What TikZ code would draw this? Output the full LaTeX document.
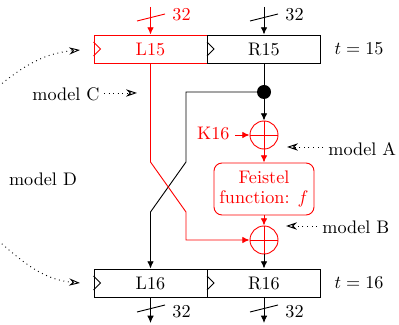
\documentclass[tikz,border=0pt]{standalone}
\usetikzlibrary{arrows.meta,calc}
\begin{document}
\begin{tikzpicture}[x=0.55pt,y=-0.55pt,line width=0.5pt,
  reg/.style={draw, rectangle, minimum width=113*0.55pt, minimum height=28*0.55pt, inner sep=0pt},
  xorn/.style={draw, circle, minimum size=28*0.55pt, inner sep=0pt},
  arr/.style={-{Latex[length=4pt,width=3.6pt]}},
  dotarr/.style={dotted, -{Stealth[open,length=6pt,width=4pt,inset=2pt]}},
  lbl/.style={inner sep=0pt}]
\useasboundingbox (0,0) rectangle (399,325);
\clip (0,0) rectangle (399,325);
% registers
\node[reg, red] (L15) at (150.5,49) {L15};
\node[reg] (R15) at (264,49) {R15};
\node[reg] (L16) at (150.5,283) {L16};
\node[reg] (R16) at (264,283) {R16};
\draw[red] ($(L15.west)+(0,-7)$) -- ++(7,7) -- ++(-7,7);
\draw ($(R15.west)+(0,-7)$) -- ++(7,7) -- ++(-7,7);
\draw ($(L16.west)+(0,-7)$) -- ++(7,7) -- ++(-7,7);
\draw ($(R16.west)+(0,-7)$) -- ++(7,7) -- ++(-7,7);
\node[lbl] (t15) at (359,49) {$t=15$};
\node[lbl] (t16) at (359,283) {$t=16$};
% inputs
\coordinate (inL) at (150.5,7);
\coordinate (inR) at (264,7);
\draw[arr, red] (inL) -- (L15.north);
\draw[arr] (inR) -- (R15.north);
\draw[red] (137,21) -- (165,14);
\draw (250,21) -- (278,14);
\node[lbl, red, anchor=west] (n32a) at (172,15) {32};
\node[lbl, anchor=west] (n32b) at (285,15) {32};
% outputs
\coordinate (outL) at (150.5,323);
\coordinate (outR) at (264,323);
\draw[arr] (L16.south) -- (outL);
\draw[arr] (R16.south) -- (outR);
\draw (137,312) -- (165,305);
\draw (250,312) -- (278,305);
\node[lbl, anchor=west] (n32c) at (172,312) {32};
\node[lbl, anchor=west] (n32d) at (285,312) {32};
% round function
\node[circle, fill, minimum size=14*0.55pt, inner sep=0pt] (dot) at (264,92) {};
\node[xorn, red] (x1) at (264,135) {};
\draw[red] (x1.north) -- (x1.south) (x1.west) -- (x1.east);
\node[draw, red, rounded corners=8*0.55pt, minimum width=100*0.55pt, minimum height=52*0.55pt, align=center, inner sep=0pt] (F) at (264,189) {Feistel\\[-1pt]function: $f$};
\node[xorn, red] (x2) at (264,240) {};
\draw[red] (x2.north) -- (x2.south) (x2.west) -- (x2.east);
\draw (R15.south) -- (dot.center);
\draw[arr] (dot.center) -- (x1.north);
\draw[arr, red] (x1.south) -- (F.north);
\draw[arr, red] (F.south) -- (x2.north);
\draw[arr] (x2.south) -- (R16.north);
\node[lbl, red, anchor=east] (K16) at (230,133) {K16};
\draw[arr, red] ($(K16.east)+(5,2)$) -- (x1.west);
% crossing
\draw[arr] (dot.center) -- (186,92) -- (186,162) -- (150.5,212) -- (L16.north);
\draw[arr, red] (L15.south) -- (150.5,162) -- (186,212) -- (186,240) -- (x2.west);
% annotations
\node[lbl, anchor=west] (mA) at (328,149) {model A};
\coordinate (pA) at (287,147);
\draw[dotarr] (mA.west) ++(-5,-2) -- (pA);
\node[lbl, anchor=west] (mB) at (322,227) {model B};
\coordinate (pB) at (286,226);
\draw[dotarr] (mB.west) ++(-5,-1) -- (pB);
\node[lbl] (mC) at (66,94) {model C};
\coordinate (pC) at (137,93);
\draw[dotarr] (mC.east) ++(4,-1) -- (pC);
\node[lbl] (mD) at (43,179) {model D};
\coordinate (pU) at (80,50);
\coordinate (pL) at (80,283);
\draw[dotarr] (-12,95) to[out=-45+90,in=185,out=40] (pU);
\draw[dotarr] (-12,232) to[out=-40,in=175] (pL);
\end{tikzpicture}
\end{document}
